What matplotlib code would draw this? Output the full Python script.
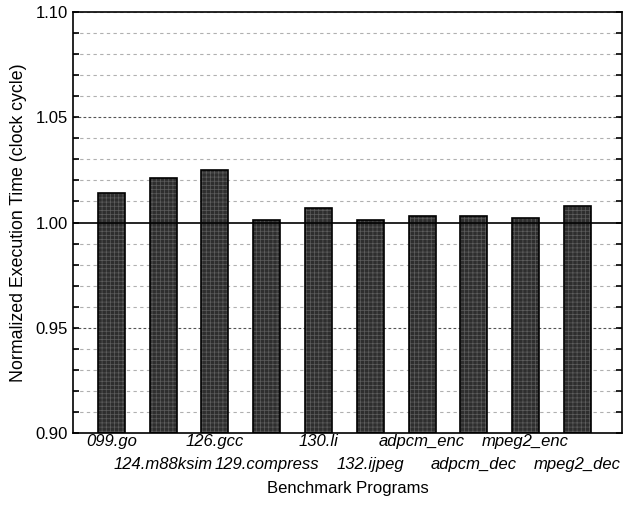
import matplotlib
matplotlib.use("Agg")
import matplotlib.pyplot as plt
from matplotlib.ticker import MultipleLocator, FixedLocator, FixedFormatter
import numpy as np

benchmarks = ["099.go", "124.m88ksim", "126.gcc", "129.compress", "130.li",
              "132.ijpeg", "adpcm_enc", "adpcm_dec", "mpeg2_enc", "mpeg2_dec"]
exec_time = [1.014, 1.021, 1.025, 1.001, 1.007, 1.001, 1.003, 1.003, 1.002, 1.008]

plt.rcParams['font.family'] = ['Liberation Sans', 'DejaVu Sans']
plt.rcParams['hatch.linewidth'] = 0.5

fig = plt.figure(figsize=(6.31, 5.14), dpi=100)
ax = fig.add_axes([0.1157, 0.1576, 0.870, 0.819])

x = np.arange(1, len(benchmarks) + 1)
bottom = 0.90
heights = [v - bottom for v in exec_time]

# grid
for yv in np.arange(0.91, 1.10, 0.01):
    yv = round(yv, 2)
    if abs(yv - 1.00) < 1e-9:
        continue
    if abs(yv - 0.95) < 1e-9 or abs(yv - 1.05) < 1e-9:
        ax.axhline(yv, color='#555555', lw=0.8, ls=(0, (2.5, 2)), zorder=1)
    else:
        ax.axhline(yv, color='#b0b0b0', lw=0.8, ls=(0, (3, 3)), zorder=1)

ax.bar(x, heights, bottom=bottom, width=0.52, facecolor='#2e2e2e',
       edgecolor='#5e5e5e', hatch='++++', linewidth=0, zorder=2)
ax.bar(x, heights, bottom=bottom, width=0.52, fill=False,
       edgecolor='black', linewidth=1.2, zorder=3)
ax.axhline(1.00, color='black', lw=1.2, zorder=4)

ax.set_ylim(0.90, 1.10)
ax.set_xlim(0.26, 10.86)
ax.yaxis.set_minor_locator(MultipleLocator(0.01))
ax.set_yticks([0.90, 0.95, 1.00, 1.05, 1.10], ["0.90", "0.95", "1.00", "1.05", "1.10"])
ax.tick_params(axis='y', which='both', direction='in', left=True, right=True,
               width=1.2, labelsize=12, length=4)

# two staggered rows of x labels
ax.xaxis.set_major_locator(FixedLocator(x[0::2]))
ax.xaxis.set_major_formatter(FixedFormatter(benchmarks[0::2]))
ax.xaxis.set_minor_locator(FixedLocator(x[1::2]))
ax.xaxis.set_minor_formatter(FixedFormatter(benchmarks[1::2]))
for lab in ax.get_xticklabels(which='both'):
    lab.set_fontstyle('italic')
    lab.set_fontsize(12)
ax.tick_params(axis='x', which='major', length=0, pad=1)
ax.tick_params(axis='x', which='minor', length=0, pad=17)

for s in ax.spines.values():
    s.set_linewidth(1.2)

ax.set_xlabel("Benchmark Programs", fontsize=12, labelpad=7)
ax.set_ylabel("Normalized Execution Time (clock cycle)", fontsize=12.8, labelpad=6)

fig.savefig("out.png", dpi=100)
